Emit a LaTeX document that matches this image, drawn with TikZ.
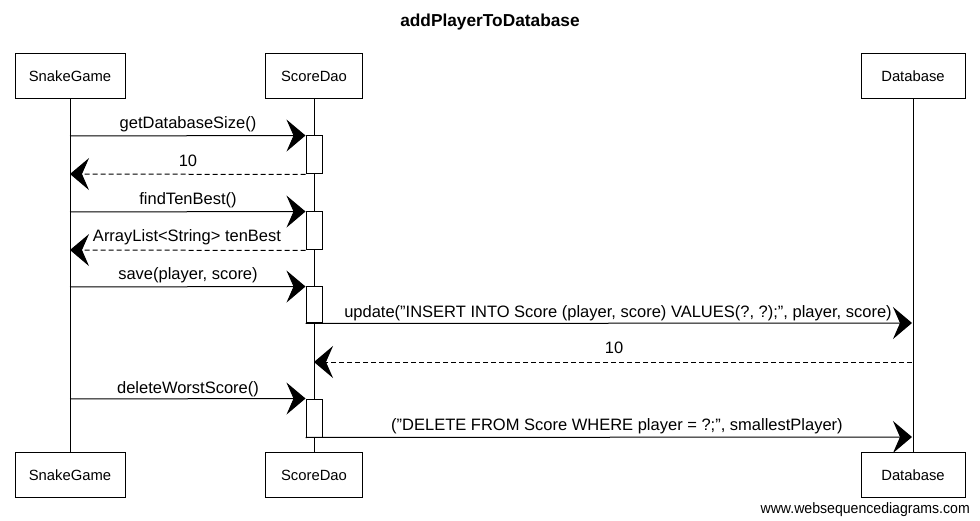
\documentclass[tikz,border=0pt]{standalone}
\usepackage{fontspec}
\setmainfont{Liberation Sans}
\usetikzlibrary{arrows.meta}
\newcommand{\dq}{\symbol{34}}
\begin{document}
\begin{tikzpicture}[x=1pt,y=-1pt,
  part/.style={draw, line width=1pt, minimum height=45pt, inner sep=0pt, fill=white, font=\fontsize{14.8}{17}\selectfont},
  act/.style={draw, line width=1pt, minimum width=16pt, inner sep=0pt, fill=white},
  msg/.style={line width=1pt, -{Stealth[length=19pt,width=32pt,inset=7pt]}},
  ret/.style={msg, dash pattern=on 5pt off 3pt},
  lbl/.style={font=\fontsize{16.5}{19}\selectfont, inner sep=0pt, anchor=base},
  life/.style={line width=0.8pt}]
\useasboundingbox[fill=white] (0,0) rectangle (980,521);

\node[font=\bfseries\fontsize{17.3}{20}\selectfont] (title) at (490,22) {addPlayerToDatabase};

% participants
\node[part, minimum width=110pt] (sgT) at (70,76) {SnakeGame};
\node[part, minimum width=97pt] (sdT) at (314,76) {ScoreDao};
\node[part, minimum width=104pt] (dbT) at (913,76) {Database};
\node[part, minimum width=110pt] (sgB) at (70,475) {SnakeGame};
\node[part, minimum width=97pt] (sdB) at (314,475) {ScoreDao};
\node[part, minimum width=104pt] (dbB) at (913,475) {Database};

% lifelines
\draw[life] (sgT.south) -- (sgB.north);
\draw[life] (sdT.south) -- (sdB.north);
\draw[life] (dbT.south) -- (dbB.north);

% activations
\node[act, minimum height=38pt] (a1) at (314,155) {};
\node[act, minimum height=38pt] (a2) at (314,231) {};
\node[act, minimum height=36pt] (a3) at (314,305) {};
\node[act, minimum height=38pt] (a4) at (314,418) {};

% endpoints on lifelines
\coordinate (s1) at (70,136);
\coordinate (s2) at (70,174);
\coordinate (s3) at (70,212);
\coordinate (s4) at (70,250);
\coordinate (s5) at (70,287);
\coordinate (d6) at (912,323);
\coordinate (d7) at (912,362);
\coordinate (c7) at (314,362);
\coordinate (s8) at (70,399);
\coordinate (d9) at (912,437);

% messages
\draw[msg] (s1) -- (a1.north west);
\draw[ret] (a1.south west) -- (s2);
\draw[msg] (s3) -- (a2.north west);
\draw[ret] (a2.south west) -- (s4);
\draw[msg] (s5) -- (a3.north west);
\draw[msg] (a3.south west) -- (d6);
\draw[ret] (d7) -- (c7);
\draw[msg] (s8) -- (a4.north west);
\draw[msg] (a4.south west) -- (d9);

% labels
\node[lbl] (l1) at (188,129) {getDatabaseSize()};
\node[lbl] (l2) at (188,167) {10};
\node[lbl] (l3) at (188,205) {findTenBest()};
\node[lbl] (l4) at (187,242) {ArrayList<String> tenBest};
\node[lbl] (l5) at (188,280) {save(player, score)};
\node[lbl] (l6) at (618,318) {update(\dq INSERT INTO Score (player, score) VALUES(?, ?);\dq, player, score)};
\node[lbl] (l7) at (614,353) {10};
\node[lbl] (l8) at (188,393) {deleteWorstScore()};
\node[lbl] (l9) at (617,430) {(\dq DELETE FROM Score WHERE player = ?;\dq, smallestPlayer)};

\node[font=\fontsize{15}{17}\selectfont, inner sep=0pt, anchor=base east, xscale=0.94] (wsd) at (970,513) {www.websequencediagrams.com};
\end{tikzpicture}
\end{document}
